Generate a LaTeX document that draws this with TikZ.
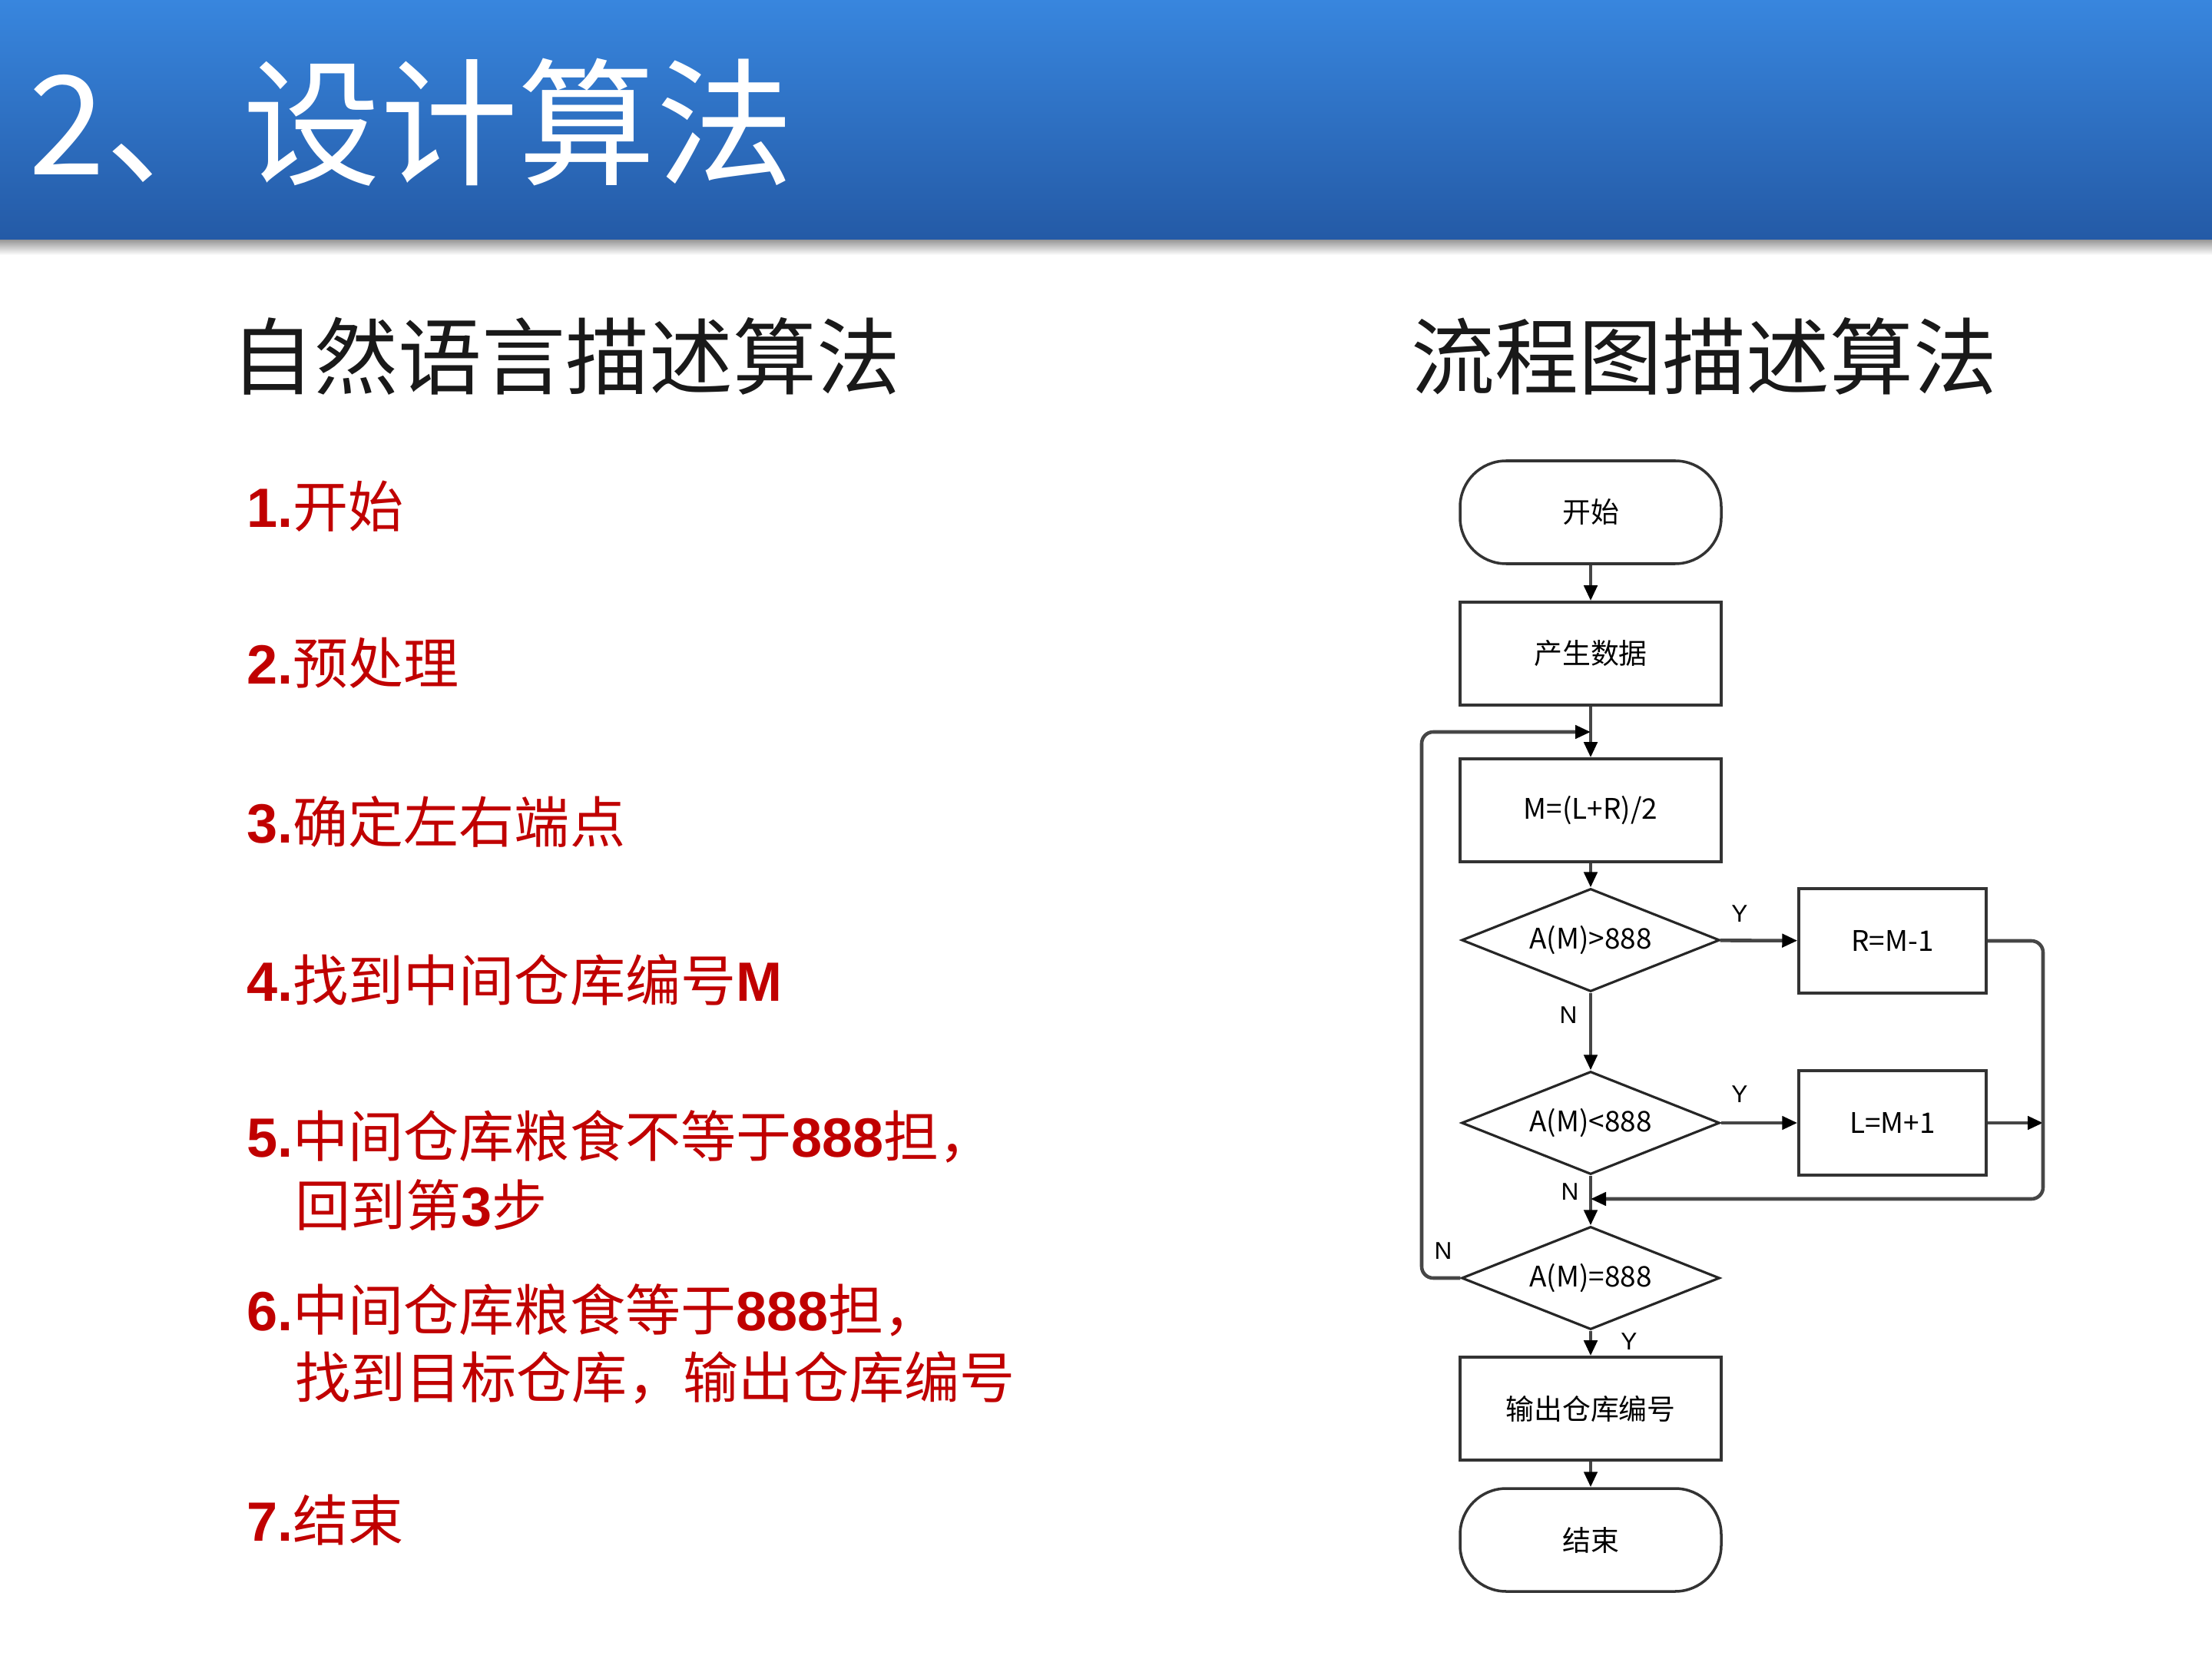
\documentclass[tikz,border=0pt]{standalone}
\usepackage{fontspec}
\setmainfont{Liberation Sans}
\newfontfamily\cjk{Noto Sans CJK SC}
\usetikzlibrary{shapes.geometric,arrows.meta}
\definecolor{itemred}{RGB}{192,0,0}
\definecolor{bandtop}{RGB}{56,134,222}
\definecolor{bandbot}{RGB}{36,90,166}
\definecolor{linegray}{RGB}{70,70,70}
\newcommand\zh[1]{{\cjk #1}}
\begin{document}
\begin{tikzpicture}[x=1cm,y=1cm,
  box/.style={draw=black!80, line width=1pt, minimum width=3.4cm, minimum height=1.34cm, inner sep=0pt, font=\cjk\fontsize{10.5}{12}\selectfont},
  term/.style={box, rounded corners=0.6cm},
  sbox/.style={box, minimum width=2.44cm, minimum height=1.36cm},
  dec/.style={draw=black!85, line width=0.9pt, diamond, shape aspect=2.5, minimum width=3.36cm, minimum height=1.34cm, inner sep=0pt, font=\cjk\fontsize{10.5}{12}\selectfont},
  conn/.style={draw=linegray, line width=1.3pt, -{Triangle[length=0.2cm,width=0.17cm,color=black]}, rounded corners=0.15cm},
  yn/.style={inner sep=0pt, font=\fontsize{9}{10}\selectfont},
  itemtext/.style={anchor=base west, inner sep=0pt, text=itemred, font=\fontsize{20.5}{24}\selectfont},
  headtext/.style={anchor=base west, inner sep=0pt, text=black!90, font=\cjk\fontsize{31}{36}\selectfont}
]
\useasboundingbox (0,0) rectangle (28.8,-21.6);
\fill[white] (0,0) rectangle (28.8,-21.6);
% header band
\shade[top color=black!45, bottom color=white] (0,-3.1) rectangle (28.8,-3.32);
\shade[top color=bandtop, bottom color=bandbot] (0,0) rectangle (28.8,-3.12);
\node[anchor=base west, inner sep=0pt, text=white, font=\cjk\fontsize{51}{56}\selectfont] (title) at (0.37,-2.28) {2、设计算法};

% subheadings
\node[headtext] (hleft) at (3.0,-5.06) {自然语言描述算法};
\node[headtext] (hright) at (18.37,-5.06) {流程图描述算法};

% list
\node[itemtext] (i1) at (3.21,-6.87) {\textbf{1.}\zh{开始}};
\node[itemtext] (i2) at (3.21,-8.91) {\textbf{2.}\zh{预处理}};
\node[itemtext] (i3) at (3.21,-10.97) {\textbf{3.}\zh{确定左右端点}};
\node[itemtext] (i4) at (3.21,-13.03) {\textbf{4.}\zh{找到中间仓库编号}\textbf{M}};
\node[itemtext] (i5a) at (3.21,-15.06) {\textbf{5.}\zh{中间仓库粮食不等于}\textbf{888}\zh{担，}};
\node[itemtext] (i5b) at (3.84,-15.96) {\zh{回到第}\textbf{3}\zh{步}};
\node[itemtext] (i6a) at (3.21,-17.32) {\textbf{6.}\zh{中间仓库粮食等于}\textbf{888}\zh{担，}};
\node[itemtext] (i6b) at (3.84,-18.20) {\zh{找到目标仓库，输出仓库编号}};
\node[itemtext] (i7) at (3.21,-20.06) {\textbf{7.}\zh{结束}};

% flowchart
\node[term] (start) at (20.71,-6.67) {开始};
\node[box] (gen) at (20.71,-8.51) {产生数据};
\node[box] (mid) at (20.71,-10.55) {M=(L+R)/2};
\node[dec] (d1) at (20.71,-12.24) {A(M)>888};
\node[sbox] (r1) at (24.64,-12.25) {R=M-1};
\node[dec] (d2) at (20.71,-14.62) {A(M)<888};
\node[sbox] (r2) at (24.64,-14.62) {L=M+1};
\node[dec] (d3) at (20.71,-16.64) {A(M)=888};
\node[box] (out) at (20.71,-18.34) {输出仓库编号};
\node[term] (stop) at (20.71,-20.05) {结束};

\coordinate (loopL) at (18.51,-9.53);
\coordinate (joinTop) at (20.71,-9.53);
\coordinate (rightBot) at (26.60,-15.61);
\coordinate (merge) at (20.71,-15.61);
\coordinate (rightMid) at (26.60,-14.62);

\draw[conn] (start) -- (gen);
\draw[conn] (gen) -- (mid);
\draw[conn] (mid) -- (d1);
\draw[conn] (d1) -- (r1);
\draw[conn] (d1) -- (d2);
\draw[conn] (d2) -- (r2);
\draw[conn] (d2) -- (d3);
\draw[conn] (d3) -- (out);
\draw[conn] (out) -- (stop);
\draw[conn] (r2.east) -- (rightMid);
\draw[conn] (r1.east) -| (rightBot) -- (merge);
\draw[conn] (d3.west) -| (loopL) -- (joinTop);

\node[yn] (y1) at (22.65,-11.90) {Y};
\node[yn] (n1) at (20.42,-13.22) {N};
\node[yn] (y2) at (22.65,-14.25) {Y};
\node[yn] (n2) at (20.44,-15.52) {N};
\node[yn] (n3) at (18.79,-16.29) {N};
\node[yn] (y3) at (21.21,-17.47) {Y};
\end{tikzpicture}
\end{document}
